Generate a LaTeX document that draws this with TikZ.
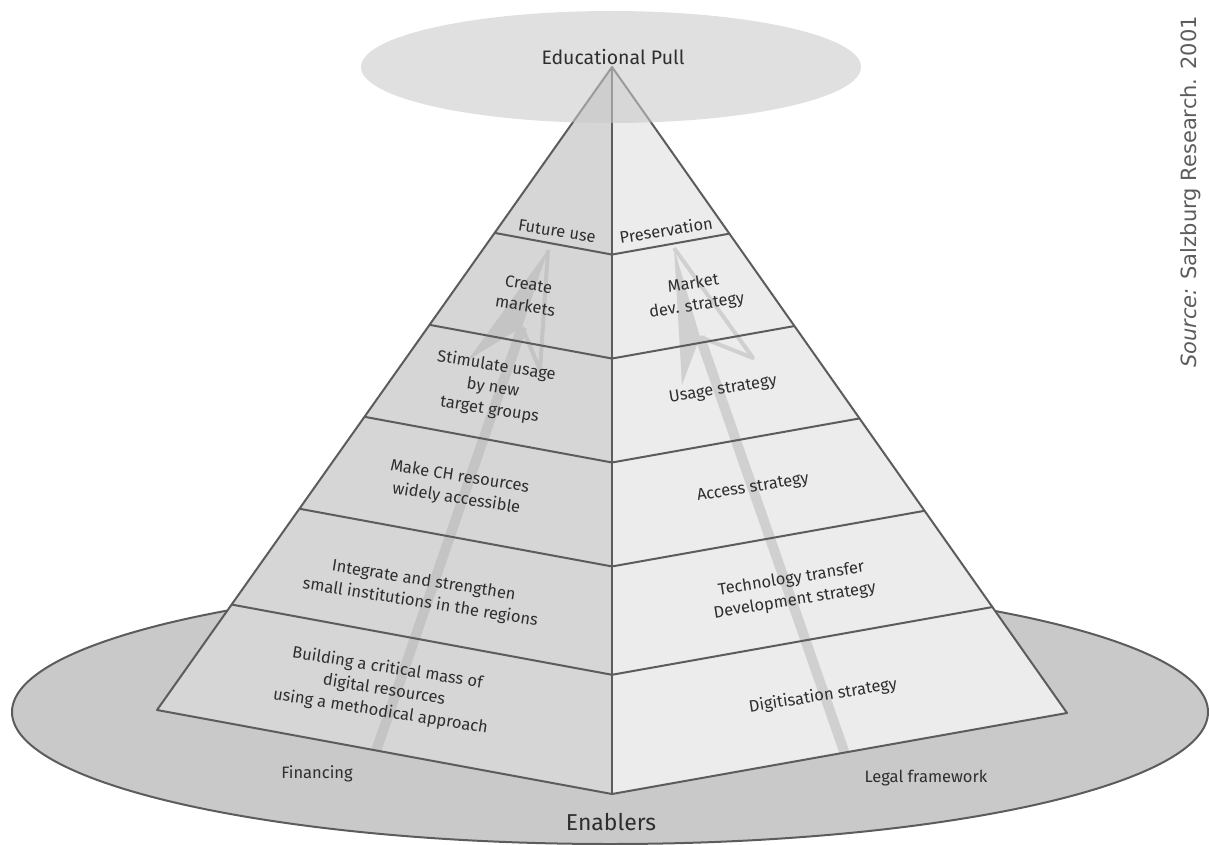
\documentclass[tikz,border=0pt]{standalone}
\usepackage{fontspec}
\setmainfont{Fira Sans}
\newfontfamily\srcfont{DejaVu Sans}
\usetikzlibrary{calc}

\definecolor{edgegray}{RGB}{92,92,92}
\definecolor{txtgray}{RGB}{46,46,46}
\definecolor{basegray}{RGB}{201,201,201}
\definecolor{leftgray}{RGB}{214,214,214}
\definecolor{rightgray}{RGB}{236,236,236}
\definecolor{topgray}{RGB}{201,201,201}
\definecolor{larrowgray}{RGB}{196,196,196}
\definecolor{rarrowgray}{RGB}{208,208,208}

\begin{document}
\begin{tikzpicture}[x=1pt, y=-1pt,
  lbl/.style={text=txtgray, font=\fontsize{16.5}{22}\selectfont, align=center, inner sep=0pt},
  lface/.style={lbl, rotate=-9},
  rface/.style={lbl, rotate=9},
  pline/.style={draw=edgegray, line width=2, line join=round}]
\useasboundingbox (0,0) rectangle (1209,845);
\coordinate(apex) at (612, 67);
\coordinate(lft) at (157, 710);
\coordinate(mid) at (612, 794);
\coordinate(rgt) at (1067, 713);
\filldraw[fill=basegray, pline] (610, 712) ellipse [x radius=598, y radius=132];
\fill[leftgray] (apex) -- (lft) -- (mid) -- cycle;
\fill[rightgray] (apex) -- (mid) -- (rgt) -- cycle;
\coordinate(lfoot) at (376, 751);
\coordinate(lnotch) at (522, 327);
\coordinate(ltip) at (548, 250);
\coordinate(lbarb) at (468, 360);
\coordinate(lrbarb) at (540, 370);
\coordinate(rfoot) at (845, 754);
\coordinate(rnotch) at (700, 337);
\coordinate(rtip) at (674, 248);
\coordinate(rbarb) at (682, 385);
\coordinate(rrbarb) at (753, 358);
\draw[larrowgray, line width=10] (lfoot) -- (lnotch);
\fill[larrowgray] (ltip) -- (lbarb) -- (lnotch) -- cycle;
\draw[larrowgray, line width=4, line join=round] (ltip) -- (lrbarb) -- (lnotch);
\draw[rarrowgray, line width=10] (rfoot) -- (rnotch);
\fill[rarrowgray] (rtip) -- (rbarb) -- (rnotch) -- cycle;
\draw[rarrowgray, line width=4, line join=round] (rtip) -- (rrbarb) -- (rnotch);
\foreach \t in {0.258, 0.401, 0.544, 0.687, 0.836}
  \draw[pline] ($(apex)!\t!(lft)$) -- ($(apex)!\t!(mid)$) -- ($(apex)!\t!(rgt)$);
\draw[pline] (apex) -- (lft) -- (mid) -- (rgt) -- cycle;
\draw[pline] (apex) -- (mid);
\fill[topgray, fill opacity=0.58] (611, 67) ellipse [x radius=250, y radius=56];
\node[lbl, font=\fontsize{19.5}{24}\selectfont](educ) at (613, 57) {Educational Pull};
\node[lface](future) at (557, 231) {Future use};
\node[rface](preserv) at (666, 230) {Preservation};
\node[lface](create) at (527, 295) {Create\\markets};
\node[rface](market) at (695, 295) {Market\\dev. strategy};
\node[lface](stim) at (493, 388) {Stimulate usage\\by new\\target groups};
\node[rface](usage) at (723, 390) {Usage strategy};
\node[lface](make) at (458, 488) {Make CH resources\\widely accessible};
\node[rface](access) at (753, 488) {Access strategy};
\node[lface](integ) at (422, 592) {Integrate and strengthen\\small institutions in the regions};
\node[rface](tech) at (793, 590) {Technology transfer\\Development strategy};
\node[lface](build) at (384, 690) {Building a critical mass of\\digital resources\\using a methodical approach};
\node[rface](digit) at (823, 696) {Digitisation strategy};
\node[lbl](fin) at (317, 774) {Financing};
\node[lbl](legal) at (926, 778) {Legal framework};
\node[lbl, font=\fontsize{23}{27}\selectfont](enab) at (611, 822) {Enablers};
\node[lbl, text=edgegray, rotate=90, font=\srcfont\fontsize{21}{24}\selectfont](src) at (1191, 192) {\textit{Source:} Salzburg Research. 2001};
\end{tikzpicture}
\end{document}
